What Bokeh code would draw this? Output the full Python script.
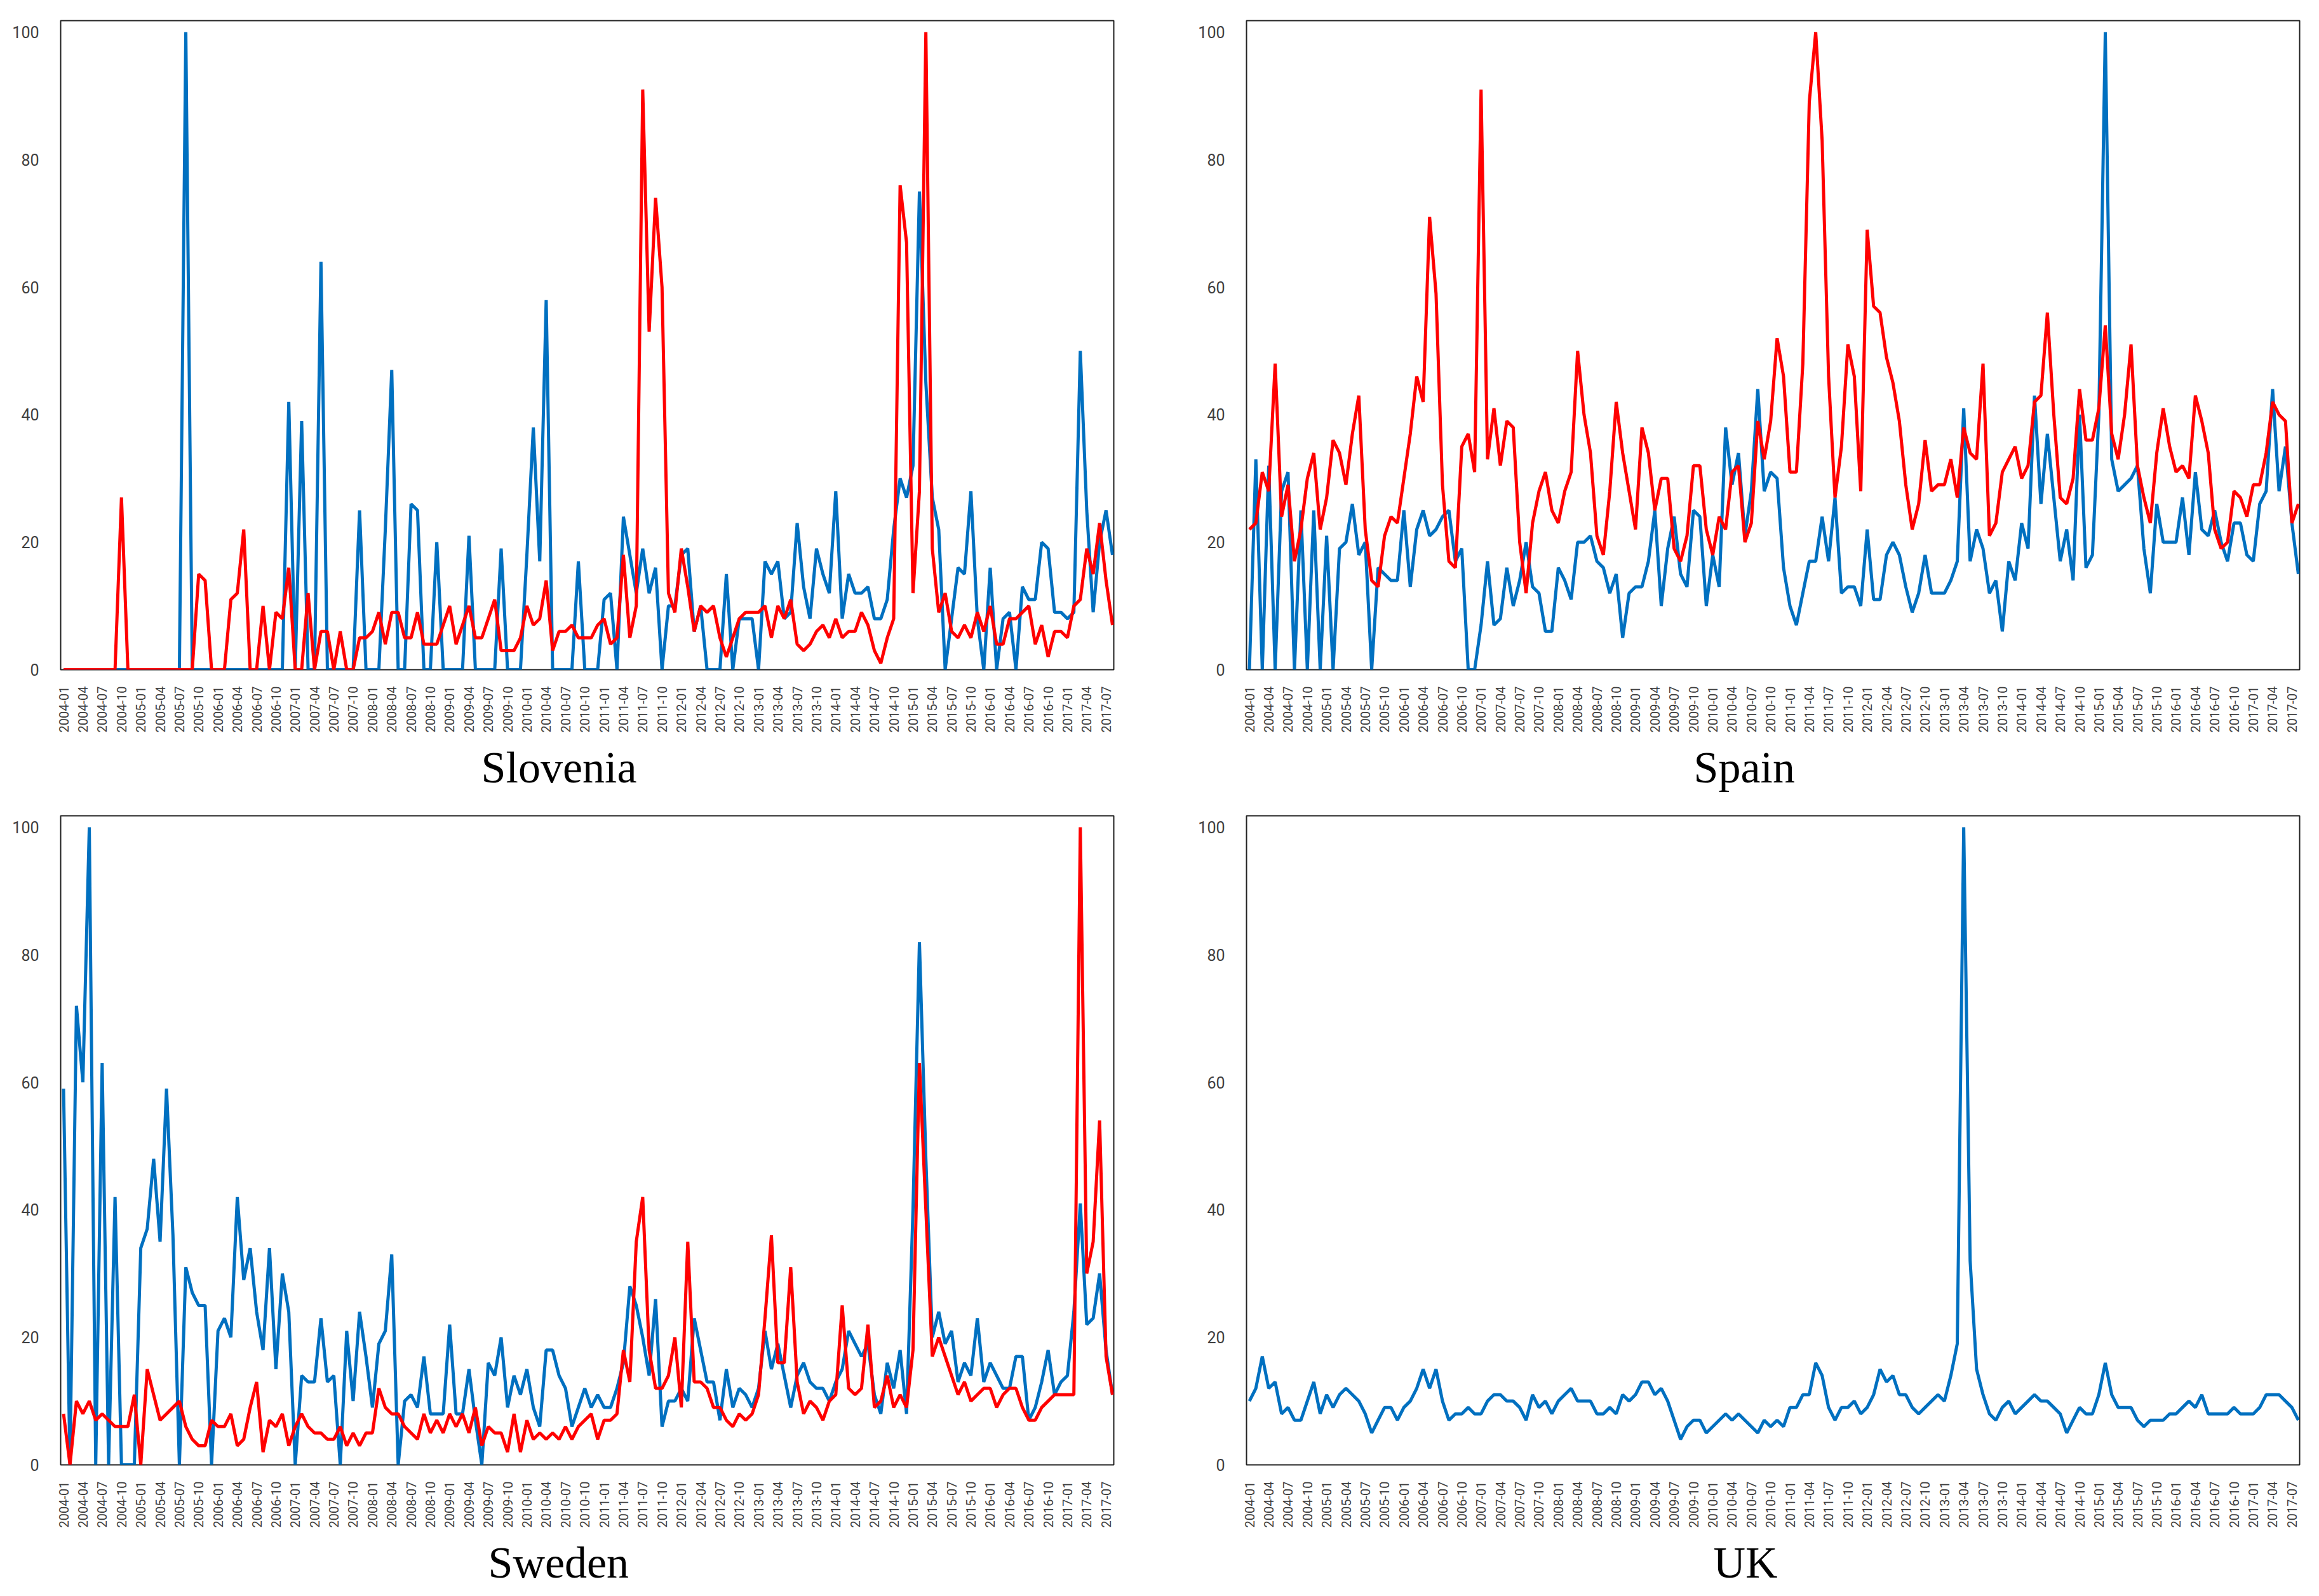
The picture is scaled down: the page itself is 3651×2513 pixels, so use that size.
import math
from bokeh.plotting import figure
from bokeh.layouts import row, column
from bokeh.models import FixedTicker, Range1d, Title
from bokeh.embed import file_html
from bokeh.resources import INLINE

# ---------------- data (monthly, 2004-01 .. 2017-08) ----------------
MONTHS = [f"{2004 + k // 12}-{k % 12 + 1:02d}" for k in range(164)]
TICKS = list(range(0, 164, 3))
X = list(range(164))

slovenia_blue = [0]*18 + [0, 100, 0] + [0]*14 + [
    42, 0, 39, 0, 0, 64, 0, 0, 0, 0, 0, 25, 0, 0, 0, 22, 47, 0, 0, 26,
    25, 0, 0, 20, 0, 0, 0, 0, 21, 0, 0, 0, 0, 19, 0, 0, 0, 18, 38, 17,
    58, 0, 0, 0, 0, 17, 0, 0, 0, 11, 12, 0, 24, 18, 12, 19, 12, 16, 0, 10,
    10, 18, 19, 6, 10, 0, 0, 0, 15, 0, 8, 8, 8, 0, 17, 15, 17, 8, 9, 23,
    13, 8, 19, 15, 12, 28, 8, 15, 12, 12, 13, 8, 8, 11, 22, 30, 27, 32, 75, 45,
    27, 22, 0, 8, 16, 15, 28, 8, 0, 16, 0, 8, 9, 0, 13, 11, 11, 20, 19, 9,
    9, 8, 9, 50, 25, 9, 20, 25, 18]
slovenia_red = [0]*9 + [27] + [0]*11 + [
    15, 14, 0, 0, 0, 11, 12, 22, 0, 0, 10, 0, 9, 8, 16, 0, 0, 12, 0, 6,
    6, 0, 6, 0, 0, 5, 5, 6, 9, 4, 9, 9, 5, 5, 9, 4, 4, 4, 7, 10,
    4, 7, 10, 5, 5, 8, 11, 3, 3, 3, 5, 10, 7, 8, 14, 3, 6, 6, 7, 5,
    5, 5, 7, 8, 4, 5, 18, 5, 10, 91, 53, 74, 60, 12, 9, 19, 13, 6, 10, 9,
    10, 5, 2, 5, 8, 9, 9, 9, 10, 5, 10, 8, 11, 4, 3, 4, 6, 7, 5, 8,
    5, 6, 6, 9, 7, 3, 1, 5, 8, 76, 67, 12, 28, 100, 19, 9, 12, 6, 5, 7,
    5, 9, 6, 10, 4, 4, 8, 8, 9, 10, 4, 7, 2, 6, 6, 5, 10, 11, 19, 15,
    23, 14, 7]

spain_blue = [
    0, 33, 0, 32, 0, 28, 31, 0, 25, 0, 25, 0, 21, 0, 19, 20, 26, 18, 20, 0,
    16, 15, 14, 14, 25, 13, 22, 25, 21, 22, 24, 25, 17, 19, 0, 0, 7, 17, 7, 8,
    16, 10, 14, 20, 13, 12, 6, 6, 16, 14, 11, 20, 20, 21, 17, 16, 12, 15, 5, 12,
    13, 13, 17, 25, 10, 19, 24, 15, 13, 25, 24, 10, 18, 13, 38, 29, 34, 21, 28, 44,
    28, 31, 30, 16, 10, 7, 12, 17, 17, 24, 17, 27, 12, 13, 13, 10, 22, 11, 11, 18,
    20, 18, 13, 9, 12, 18, 12, 12, 12, 14, 17, 41, 17, 22, 19, 12, 14, 6, 17, 14,
    23, 19, 43, 26, 37, 27, 17, 22, 14, 40, 16, 18, 40, 100, 33, 28, 29, 30, 32, 19,
    12, 26, 20, 20, 20, 27, 18, 31, 22, 21, 25, 20, 17, 23, 23, 18, 17, 26, 28, 44,
    28, 35, 23, 15]
spain_red = [
    22, 23, 31, 28, 48, 24, 29, 17, 22, 30, 34, 22, 27, 36, 34, 29, 37, 43, 22, 14,
    13, 21, 24, 23, 30, 37, 46, 42, 71, 59, 29, 17, 16, 35, 37, 31, 91, 33, 41, 32,
    39, 38, 20, 12, 23, 28, 31, 25, 23, 28, 31, 50, 40, 34, 21, 18, 28, 42, 34, 28,
    22, 38, 34, 25, 30, 30, 19, 17, 21, 32, 32, 22, 18, 24, 22, 31, 32, 20, 23, 39,
    33, 39, 52, 46, 31, 31, 48, 89, 100, 83, 46, 27, 35, 51, 46, 28, 69, 57, 56, 49,
    45, 39, 29, 22, 26, 36, 28, 29, 29, 33, 27, 38, 34, 33, 48, 21, 23, 31, 33, 35,
    30, 32, 42, 43, 56, 40, 27, 26, 30, 44, 36, 36, 41, 54, 37, 33, 40, 51, 32, 27,
    23, 34, 41, 35, 31, 32, 30, 43, 39, 34, 22, 19, 20, 28, 27, 24, 29, 29, 34, 42,
    40, 39, 23, 26]

sweden_blue = [
    59, 0, 72, 60, 100, 0, 63, 0, 42, 0, 0, 0, 34, 37, 48, 35, 59, 36, 0, 31,
    27, 25, 25, 0, 21, 23, 20, 42, 29, 34, 24, 18, 34, 15, 30, 24, 0, 14, 13, 13,
    23, 13, 14, 0, 21, 10, 24, 17, 9, 19, 21, 33, 0, 10, 11, 9, 17, 8, 8, 8,
    22, 8, 8, 15, 7, 0, 16, 14, 20, 9, 14, 11, 15, 9, 6, 18, 18, 14, 12, 6,
    9, 12, 9, 11, 9, 9, 12, 16, 28, 25, 20, 14, 26, 6, 10, 10, 12, 10, 23, 18,
    13, 13, 7, 15, 9, 12, 11, 9, 12, 21, 15, 19, 14, 9, 14, 16, 13, 12, 12, 10,
    13, 15, 21, 19, 17, 19, 11, 8, 16, 12, 18, 8, 40, 82, 48, 20, 24, 19, 21, 13,
    16, 14, 23, 13, 16, 14, 12, 12, 17, 17, 7, 9, 13, 18, 11, 13, 14, 24, 41, 22,
    23, 30, 18, 11]
sweden_red = [
    8, 0, 10, 8, 10, 7, 8, 7, 6, 6, 6, 11, 0, 15, 11, 7, 8, 9, 10, 6,
    4, 3, 3, 7, 6, 6, 8, 3, 4, 9, 13, 2, 7, 6, 8, 3, 6, 8, 6, 5,
    5, 4, 4, 6, 3, 5, 3, 5, 5, 12, 9, 8, 8, 6, 5, 4, 8, 5, 7, 5,
    8, 6, 8, 5, 9, 3, 6, 5, 5, 2, 8, 2, 7, 4, 5, 4, 5, 4, 6, 4,
    6, 7, 8, 4, 7, 7, 8, 18, 13, 35, 42, 18, 12, 12, 14, 20, 9, 35, 13, 13,
    12, 9, 9, 7, 6, 8, 7, 8, 11, 23, 36, 16, 16, 31, 13, 8, 10, 9, 7, 10,
    11, 25, 12, 11, 12, 22, 9, 10, 14, 9, 11, 9, 18, 63, 40, 17, 20, 17, 14, 11,
    13, 10, 11, 12, 12, 9, 11, 12, 12, 9, 7, 7, 9, 10, 11, 11, 11, 11, 100, 30,
    35, 54, 17, 11]

uk_blue = [
    10, 12, 17, 12, 13, 8, 9, 7, 7, 10, 13, 8, 11, 9, 11, 12, 11, 10, 8, 5,
    7, 9, 9, 7, 9, 10, 12, 15, 12, 15, 10, 7, 8, 8, 9, 8, 8, 10, 11, 11,
    10, 10, 9, 7, 11, 9, 10, 8, 10, 11, 12, 10, 10, 10, 8, 8, 9, 8, 11, 10,
    11, 13, 13, 11, 12, 10, 7, 4, 6, 7, 7, 5, 6, 7, 8, 7, 8, 7, 6, 5,
    7, 6, 7, 6, 9, 9, 11, 11, 16, 14, 9, 7, 9, 9, 10, 8, 9, 11, 15, 13,
    14, 11, 11, 9, 8, 9, 10, 11, 10, 14, 19, 100, 32, 15, 11, 8, 7, 9, 10, 8,
    9, 10, 11, 10, 10, 9, 8, 5, 7, 9, 8, 8, 11, 16, 11, 9, 9, 9, 7, 6,
    7, 7, 7, 8, 8, 9, 10, 9, 11, 8, 8, 8, 8, 9, 8, 8, 8, 9, 11, 11,
    11, 10, 9, 7]

Y_TICKS = [0, 20, 40, 60, 80, 100]
BLUE = "#0070C0"
RED = "#FF0000"
LABEL_GREY = "#404040"


def make(title, title_shift, blue, red, bl, br, bt, bb, fh):
    p = figure(frame_width=1658, frame_height=fh,
               x_range=Range1d(-0.45, 163.2), y_range=Range1d(0, 101.8),
               output_backend="svg", toolbar_location=None,
               min_border_left=bl, min_border_right=br,
               min_border_top=bt, min_border_bottom=bb)
    p.grid.visible = False
    p.outline_line_color = "#222222"
    p.outline_line_width = 2
    p.background_fill_color = "white"
    p.border_fill_color = "white"
    p.line(X, blue, line_color=BLUE, line_width=5)
    if red is not None:
        p.line(X, red, line_color=RED, line_width=5)

    xa = p.xaxis[0]
    xa.ticker = FixedTicker(ticks=TICKS)
    xa.major_label_overrides = {t: MONTHS[t] for t in TICKS}
    xa.major_label_orientation = math.pi / 2
    xa.major_label_text_font = "Roboto"
    xa.major_label_text_font_size = "20px"
    xa.major_label_text_color = LABEL_GREY
    xa.major_label_standoff = 20
    xa.major_tick_line_color = None
    xa.minor_tick_line_color = None
    xa.axis_line_color = None

    ya = p.yaxis[0]
    ya.ticker = FixedTicker(ticks=Y_TICKS)
    ya.major_label_text_font = "Roboto"
    ya.major_label_text_font_size = "25px"
    ya.major_label_text_color = LABEL_GREY
    ya.major_label_standoff = 28
    ya.major_tick_line_color = None
    ya.minor_tick_line_color = None
    ya.axis_line_color = None

    p.add_layout(Title(text=title, align="left", offset=title_shift,
                       text_font="Liberation Serif", text_font_size="70px",
                       text_font_style="normal", text_color="black",
                       standoff=22), "below")
    return p


p_slo = make("Slovenia", 662, slovenia_blue, slovenia_red, 95, 100, 32, 215, 1022)
p_esp = make("Spain", 704, spain_blue, spain_red, 109, 20, 32, 215, 1022)
p_swe = make("Sweden", 673, sweden_blue, sweden_red, 95, 100, 15, 190, 1022)
p_uk = make("UK", 735, uk_blue, None, 109, 20, 15, 190, 1022)

layout = column(row(p_slo, p_esp), row(p_swe, p_uk))

with open("out.html", "w") as f:
    f.write(file_html(layout, INLINE, title="Trends"))
